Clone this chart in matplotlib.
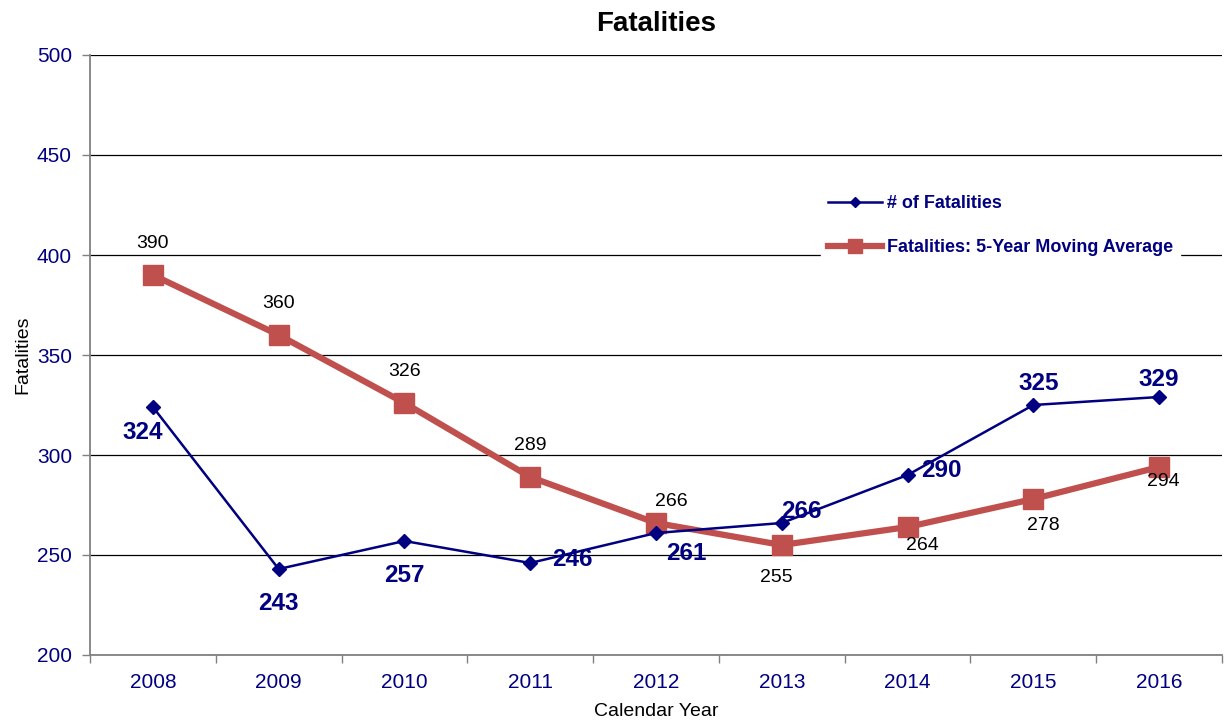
import matplotlib.pyplot as plt

years = ['2008', '2009', '2010', '2011', '2012', '2013', '2014', '2015', '2016']
fatalities = [324, 243, 257, 246, 261, 266, 290, 325, 329]
moving_avg = [390, 360, 326, 289, 266, 255, 264, 278, 294]

# label offsets in pixels (dx, dy), screen y up
fat_offsets = [(-10, -25), (0, -35), (0, -35), (42, 3), (30, -20), (20, 12), (34, 5), (5, 22), (0, 18)]
avg_offsets = [(0, 32), (0, 32), (0, 32), (0, 32), (15, 22), (-5, -32), (15, -19), (10, -26), (4, -14)]

navy = '#000080'
red = '#C0504D'

plt.rcParams['font.family'] = ['Liberation Sans', 'DejaVu Sans']

fig = plt.figure(figsize=(12.25, 7.24), dpi=100)
ax = fig.add_axes([90 / 1225, 69 / 724, 1132 / 1225, 600 / 724])

x = list(range(len(years)))
ax.plot(x, moving_avg, color=red, lw=4.5, marker='s', markersize=14,
        label='Fatalities: 5-Year Moving Average', zorder=3)
ax.plot(x, fatalities, color=navy, lw=1.8, marker='D', markersize=7,
        label='# of Fatalities', zorder=4)

for i, v in enumerate(fatalities):
    ax.annotate(str(v), (i, v), xytext=fat_offsets[i], textcoords='offset pixels',
                ha='center', va='center', fontsize=17.5, fontweight='bold', color=navy, zorder=5)
for i, v in enumerate(moving_avg):
    ax.annotate(str(v), (i, v), xytext=avg_offsets[i], textcoords='offset pixels',
                ha='center', va='center', fontsize=14, color='black', zorder=5)

ax.set_xlim(-0.5, len(years) - 0.5)
ax.set_ylim(200, 500)
ax.set_yticks(range(200, 501, 50))
ax.set_xticks(x)
ax.set_xticklabels(years)
ax.set_xticks([i + 0.5 for i in range(-1, len(years))], minor=True)
ax.tick_params(axis='x', which='major', length=0, pad=13, labelsize=15, labelcolor=navy)
ax.tick_params(axis='x', which='minor', length=6, color='#808080', width=1)
ax.tick_params(axis='y', length=6, color='#808080', width=1, labelsize=15, labelcolor=navy, pad=7)

ax.grid(axis='y', color='black', lw=0.9)
ax.set_axisbelow(True)
for s in ['top', 'right']:
    ax.spines[s].set_visible(False)
for s in ['left', 'bottom']:
    ax.spines[s].set_color('#808080')
    ax.spines[s].set_linewidth(1.3)

ax.set_title('Fatalities', fontsize=20, fontweight='bold', pad=17)
ax.set_xlabel('Calendar Year', fontsize=14, labelpad=8)
ax.set_ylabel('Fatalities', fontsize=14, labelpad=4)

handles, labels = ax.get_legend_handles_labels()
leg = ax.legend(handles[::-1], labels[::-1], loc='center left', bbox_to_anchor=(0.638, 0.716),
                frameon=True, fancybox=False, edgecolor='white', framealpha=1,
                handlelength=3.0, labelspacing=1.5, borderpad=0.35, handletextpad=0.3,
                markerscale=0.7, prop={'weight': 'bold', 'size': 13})
for t in leg.get_texts():
    t.set_color(navy)

fig.savefig('out.png', dpi=100)
